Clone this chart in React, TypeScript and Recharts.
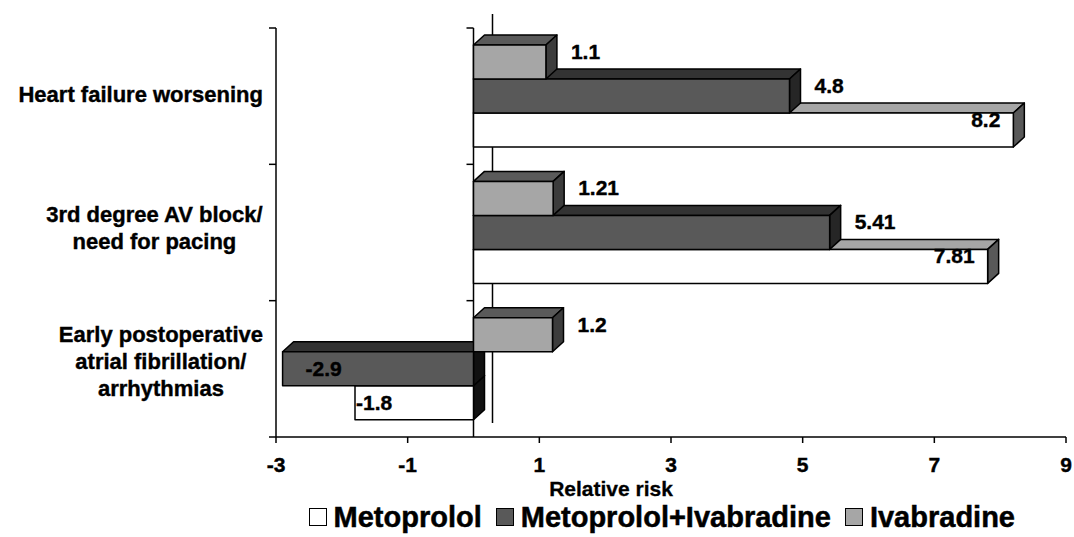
import { Bar, BarChart, Legend, ReferenceLine, XAxis, YAxis } from "recharts"

const categories = [
  "Heart failure worsening",
  "3rd degree AV block/ need for pacing",
  "Early postoperative atrial fibrillation/ arrhythmias",
]
const categoryLines = [
  ["Heart failure worsening"],
  ["3rd degree AV block/", "need for pacing"],
  ["Early postoperative", "atrial fibrillation/", "arrhythmias"],
]
const metoprolol = [8.2, 7.81, -1.8]
const metoprololIvabradine = [4.8, 5.41, -2.9]
const ivabradine = [1.1, 1.21, 1.2]
const xTicks = [-3, -1, 1, 3, 5, 7, 9]

const data = categories.map((c, i) => ({
  category: c,
  metoprolol: metoprolol[i],
  combo: metoprololIvabradine[i],
  ivabradine: ivabradine[i],
}))

const FONT = '"Liberation Sans", Arial, sans-serif'
const DX = 11
const DY = 10

type Serie = {
  key: string
  name: string
  front: string
  top: string
  side: string
  slot: number // shift so the lower bars get drawn first (3d overlap)
  inside: boolean
  negPad: number
}

const SERIES: Serie[] = [
  { key: "metoprolol", name: "Metoprolol", front: "#ffffff", top: "#a6a6a6", side: "#595959", slot: 2, inside: true, negPad: 1 },
  { key: "combo", name: "Metoprolol+Ivabradine", front: "#595959", top: "#333333", side: "#262626", slot: 0, inside: false, negPad: 23 },
  { key: "ivabradine", name: "Ivabradine", front: "#a6a6a6", top: "#5a5a5a", side: "#3c3c3c", slot: -2, inside: false, negPad: 10 },
]

function bar3d(s: Serie) {
  return (props: any) => {
    const { x, y, width, height, payload } = props
    const v = payload[s.key]
    const h = Math.abs(height)
    const yy = Math.min(y, y + height) + s.slot * h
    const x0 = Math.min(x, x + width)
    const x1 = Math.max(x, x + width)
    const side = v < 0 ? "#111111" : s.side
    const txt = String(v)
    let label
    if (v >= 0) {
      label = s.inside ? (
        <text x={x1 - 13} y={yy + h / 2 - 3} textAnchor="end">{txt}</text>
      ) : (
        <text x={x1 + DX + 14} y={yy + h / 2 - 3} textAnchor="start">{txt}</text>
      )
    } else {
      label = <text x={x0 + s.negPad} y={yy + h / 2 + 7} textAnchor="start">{txt}</text>
    }
    return (
      <g stroke="#000" strokeWidth={1.5} strokeLinejoin="round">
        <polygon points={`${x0},${yy} ${x0 + DX},${yy - DY} ${x1 + DX},${yy - DY} ${x1},${yy}`} fill={s.top} />
        <polygon points={`${x1},${yy} ${x1 + DX},${yy - DY} ${x1 + DX},${yy + h - DY} ${x1},${yy + h}`} fill={side} />
        <rect x={x0} y={yy} width={x1 - x0} height={h} fill={s.front} />
        <g stroke="#000" strokeWidth={0.4} fill="#000" fontFamily={FONT} fontWeight="bold" fontSize={21}>
          {label}
        </g>
      </g>
    )
  }
}

let ctx: CanvasRenderingContext2D | null = null
function measure(t: string, font: string) {
  if (!ctx) ctx = document.createElement("canvas").getContext("2d")
  if (!ctx) return t.length * 11
  ctx.font = font
  return ctx.measureText(t).width
}

function CategoryTick(props: any) {
  const { x, y, payload } = props
  const idx = categories.indexOf(payload.value)
  const lines = categoryLines[idx] || [String(payload.value)]
  const axisX = x + 7
  const half = payload.offset || 68
  const font = `bold 22px ${FONT}`
  const maxW = Math.max(...lines.map((l) => measure(l, font)))
  const cx = axisX - 13 - maxW / 2
  const n = lines.length
  const mid = y + 6 - (n - 1) * 3
  return (
    <g>
      <line x1={axisX - 7} y1={y - half} x2={axisX} y2={y - half} stroke="#000" strokeWidth={1.5} />
      {idx === categories.length - 1 && (
        <line x1={axisX - 7} y1={y + half} x2={axisX} y2={y + half} stroke="#000" strokeWidth={1.5} />
      )}
      {lines.map((l, i) => (
        <text
          key={i}
          x={cx}
          y={mid + (i - (n - 1) / 2) * 27}
          textAnchor="middle"
          fontFamily={FONT}
          fontWeight="bold"
          fontSize={22}
          fill="#000"
          stroke="#000"
          strokeWidth={0.4}
        >
          {l}
        </text>
      ))}
    </g>
  )
}

function ZeroLine(props: any) {
  const { x1, y1, y2 } = props
  const top = Math.min(y1, y2)
  const bottom = Math.max(y1, y2)
  const band = (bottom - top) / categories.length
  return (
    <g stroke="#000" strokeWidth={1.5}>
      <line x1={x1 + 19} y1={top - 14} x2={x1 + 19} y2={bottom - 14} />
      <line x1={x1} y1={top} x2={x1} y2={bottom} />
      {categories.map((_, i) => (
        <line key={i} x1={x1 - 7} y1={top + i * band} x2={x1} y2={top + i * band} />
      ))}
    </g>
  )
}

function LegendBox() {
  return (
    <div
      style={{
        display: "flex",
        justifyContent: "flex-end",
        alignItems: "center",
        height: 40,
        paddingRight: 59,
        fontFamily: FONT,
        fontWeight: "bold",
        fontSize: 29,
        color: "#000",
        boxSizing: "border-box",
        WebkitTextStroke: "0.5px #000",
      }}
    >
      {SERIES.map((s) => (
        <div key={s.key} style={{ display: "flex", alignItems: "center", marginLeft: 14 }}>
          <span
            style={{
              width: 16,
              height: 16,
              border: "1.5px solid #000",
              background: s.front,
              marginRight: 7,
              display: "inline-block",
            }}
          />
          <span>{s.name}</span>
        </div>
      ))}
    </div>
  )
}

function AxisTitle(p: any) {
  const vb = p.viewBox || { x: 276, y: 437 }
  return (
    <text
      x={vb.x + 335}
      y={vb.y + 59}
      textAnchor="middle"
      fontFamily={FONT}
      fontWeight="bold"
      fontSize={21}
      fill="#000"
      stroke="#000"
      strokeWidth={0.3}
    >
      Relative risk
    </text>
  )
}

export default function App() {
  return (
    <div style={{ position: "absolute", left: 0, top: 0, background: "#fff" }}>
      <BarChart
        width={1074}
        height={537}
        data={data}
        layout="vertical"
        margin={{ top: 28, right: 8, left: 0, bottom: 0 }}
        barCategoryGap="12.5%"
        barGap={0}
        style={{ fontFamily: FONT }}
      >
        <XAxis
          type="number"
          domain={[-3, 9]}
          ticks={xTicks}
          allowDataOverflow
          height={60}
          stroke="#000"
          tickSize={6}
          tickMargin={14}
          axisLine={{ stroke: "#000", strokeWidth: 1.5 }}
          tickLine={{ stroke: "#000", strokeWidth: 1.5 }}
          tick={{ fill: "#000", fontSize: 21, fontWeight: "bold", fontFamily: FONT, stroke: "#000", strokeWidth: 0.4 }}
          label={{ content: AxisTitle }}
        />
        <YAxis
          type="category"
          dataKey="category"
          width={276}
          tickSize={7}
          tickMargin={0}
          tickLine={false}
          axisLine={{ stroke: "#000", strokeWidth: 1.5 }}
          tick={CategoryTick}
          interval={0}
        />
        <ReferenceLine x={0} shape={ZeroLine} zIndex={100} />
        {SERIES.map((s) => (
          <Bar key={s.key} dataKey={s.key} name={s.name} fill={s.front} shape={bar3d(s)} isAnimationActive={false} />
        ))}
        <Legend verticalAlign="bottom" content={() => <LegendBox />} wrapperStyle={{ left: 0, width: 1074, bottom: 0 }} />
      </BarChart>
    </div>
  )
}
